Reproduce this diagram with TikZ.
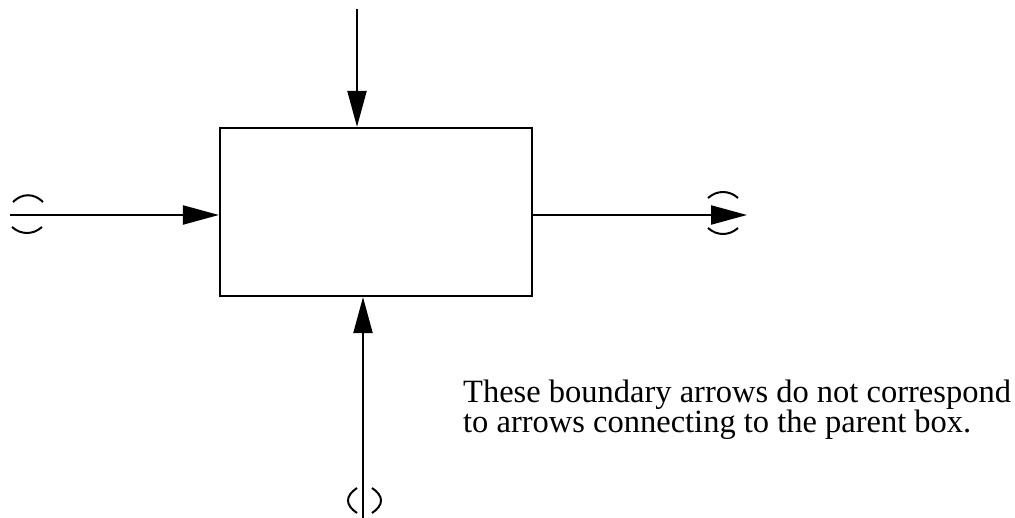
\documentclass[tikz,border=0pt]{standalone}
\usepackage{fontspec}
\setmainfont{Liberation Serif}
\usetikzlibrary{arrows.meta}
\begin{document}
\begin{tikzpicture}[x=1pt,y=-1pt,
  flow/.style={line width=2.2pt,-{Triangle[length=36pt,width=19pt]}},
  tunnel/.style={line width=2pt}]
\useasboundingbox (0,0) rectangle (1015,518);
\node[draw,line width=2.2pt,minimum width=312,minimum height=168,inner sep=0] (act) at (376,212) {};
\coordinate (ctl) at (357,9);
\coordinate (inp) at (10,215);
\coordinate (outp) at (747,215);
\coordinate (mech) at (363,518);
\draw[flow] (ctl) -- (ctl |- act.north);
\draw[flow] (inp) -- (inp -| act.west);
\draw[flow] (outp -| act.east) -- (outp);
\draw[flow] (mech) -- (mech |- act.south);
% tunnel marks
\draw[tunnel] (13,202) .. controls (22,193) and (34,193) .. (43,202);
\draw[tunnel] (12,227) .. controls (21,235) and (33,235) .. (42,227);
\draw[tunnel] (708,198) .. controls (717,190) and (729,190) .. (738,198);
\draw[tunnel] (708,228) .. controls (717,236) and (729,236) .. (738,228);
\draw[tunnel] (357,488) .. controls (345,496) and (345,505) .. (357,513);
\draw[tunnel] (372,488) .. controls (384,496) and (384,505) .. (372,513);
\node[anchor=base west,inner sep=0,align=left,font=\fontsize{32.5}{26}\selectfont] (note) at (463,433)
  {These boundary arrows do not correspond\\to arrows connecting to the parent box.};
\end{tikzpicture}
\end{document}
